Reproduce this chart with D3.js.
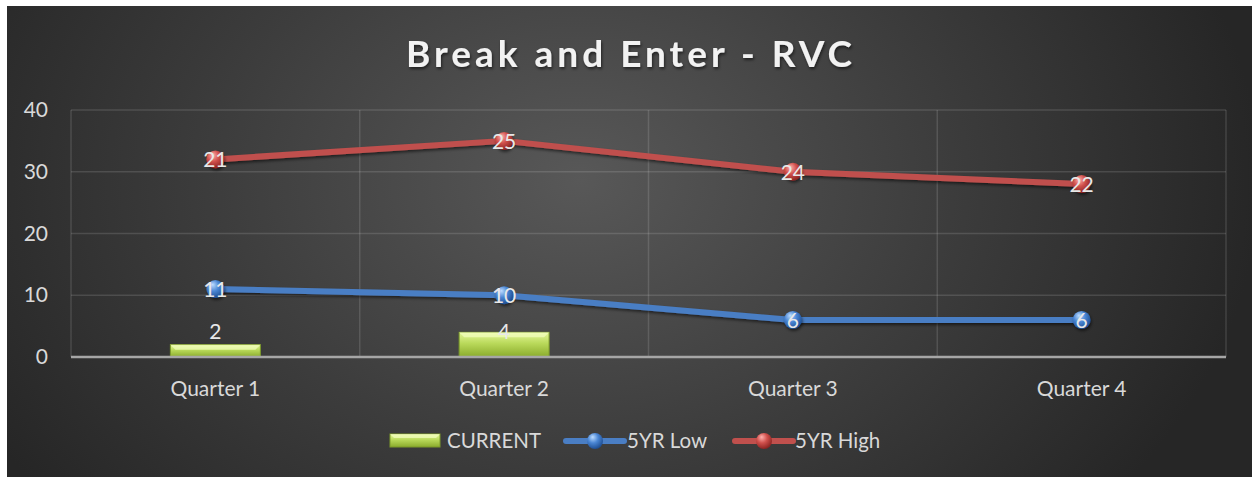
<!DOCTYPE html>
<html>
<head>
    <meta charset="utf-8">
    <title>Break and Enter - RVC</title>
    <script src="https://d3js.org/d3.v7.min.js"></script>
    <style>
        body { margin: 0; background: #fff; }
        text { font-family: Lato, "Open Sans", sans-serif; }
        .tick-label { font-size: 21px; fill: #d9d9d9; }
        .data-label { font-size: 21px; fill: #e8e8e8; }
        .legend-text { font-size: 20.5px; fill: #d9d9d9; }
    </style>
</head>
<body>
    <div id="chart"></div>

    <script>
        // 数据
        const quarters = ["Quarter 1", "Quarter 2", "Quarter 3", "Quarter 4"];
        const current = [2, 4, null, null];
        const low5yr = [11, 10, 6, 6];
        const high5yr = [21, 25, 24, 22];   // stacked on top of 5YR Low
        const yTicks = [0, 10, 20, 30, 40];

        const width = 1252;
        const height = 477;
        const margin = { left: 71, right: 1226, top: 110, bottom: 357 };

        const svg = d3.select("#chart")
            .append("svg")
            .attr("width", width)
            .attr("height", height);

        const defs = svg.append("defs");

        // 背景渐变
        const bg = defs.append("radialGradient")
            .attr("id", "bg")
            .attr("gradientUnits", "userSpaceOnUse")
            .attr("cx", 580).attr("cy", 180).attr("r", 680)
            .attr("gradientTransform", "translate(580,180) scale(1,0.75) translate(-580,-180)");
        bg.append("stop").attr("offset", "0%").attr("stop-color", "#585858");
        bg.append("stop").attr("offset", "55%").attr("stop-color", "#3c3c3c");
        bg.append("stop").attr("offset", "100%").attr("stop-color", "#262626");

        const barGrad = defs.append("linearGradient")
            .attr("id", "barGrad").attr("x1", 0).attr("y1", 0).attr("x2", 0).attr("y2", 1);
        barGrad.append("stop").attr("offset", "0%").attr("stop-color", "#e4f79a");
        barGrad.append("stop").attr("offset", "45%").attr("stop-color", "#b9d95a");
        barGrad.append("stop").attr("offset", "100%").attr("stop-color", "#8aab2c");

        function sphere(id, light, mid, dark) {
            const g = defs.append("radialGradient")
                .attr("id", id)
                .attr("cx", "40%").attr("cy", "35%").attr("r", "65%")
                .attr("fx", "35%").attr("fy", "25%");
            g.append("stop").attr("offset", "0%").attr("stop-color", light);
            g.append("stop").attr("offset", "50%").attr("stop-color", mid);
            g.append("stop").attr("offset", "100%").attr("stop-color", dark);
        }
        sphere("blueBall", "#bcdcff", "#4a86d4", "#1f4f94");
        sphere("redBall", "#ffb0ad", "#d0504c", "#8c2422");

        const shadow = defs.append("filter").attr("id", "shadow")
            .attr("x", "-20%").attr("y", "-20%").attr("width", "140%").attr("height", "160%");
        shadow.append("feDropShadow")
            .attr("dx", 1).attr("dy", 2).attr("stdDeviation", 1.5)
            .attr("flood-color", "#000").attr("flood-opacity", 0.55);

        svg.append("rect")
            .attr("x", 7).attr("y", 6)
            .attr("width", width - 7).attr("height", height - 6)
            .attr("fill", "url(#bg)");

        // 比例尺
        const x = d3.scaleBand()
            .domain(quarters)
            .range([margin.left, margin.right]);

        const y = d3.scaleLinear()
            .domain([0, 40])
            .range([margin.bottom, margin.top]);

        // 网格线
        svg.append("g")
            .selectAll("line")
            .data(yTicks.filter(d => d > 0))
            .join("line")
            .attr("x1", margin.left).attr("x2", margin.right)
            .attr("y1", d => y(d)).attr("y2", d => y(d))
            .attr("stroke", "#ffffff").attr("stroke-opacity", 0.13).attr("stroke-width", 1.5);

        const bounds = quarters.map(q => x(q)).concat([margin.right]);
        svg.append("g")
            .selectAll("line")
            .data(bounds)
            .join("line")
            .attr("x1", d => d).attr("x2", d => d)
            .attr("y1", margin.top).attr("y2", margin.bottom)
            .attr("stroke", "#ffffff").attr("stroke-opacity", 0.13).attr("stroke-width", 1.5);

        // Y轴标签
        svg.append("g")
            .selectAll("text")
            .data(yTicks)
            .join("text")
            .attr("class", "tick-label")
            .attr("x", 48)
            .attr("y", d => y(d) + 7)
            .attr("text-anchor", "end")
            .text(d => d);

        // X轴标签
        svg.append("g")
            .selectAll("text")
            .data(quarters)
            .join("text")
            .attr("class", "tick-label")
            .attr("x", d => x(d) + x.bandwidth() / 2)
            .attr("y", 396)
            .attr("text-anchor", "middle")
            .text(d => d);

        // 柱状图
        const barW = 90;
        const bars = quarters.map((q, i) => ({ q, v: current[i] })).filter(d => d.v != null);

        svg.append("g")
            .selectAll("rect")
            .data(bars)
            .join("rect")
            .attr("x", d => x(d.q) + x.bandwidth() / 2 - barW / 2)
            .attr("y", d => y(d.v))
            .attr("width", barW)
            .attr("height", d => y(0) - y(d.v))
            .attr("fill", "url(#barGrad)")
            .attr("stroke", "#7c9a2a")
            .attr("stroke-width", 1);

        // 斜面高光
        svg.append("g")
            .selectAll("path")
            .data(bars)
            .join("path")
            .attr("d", d => {
                const x0 = x(d.q) + x.bandwidth() / 2 - barW / 2, x1 = x0 + barW;
                const y0 = y(d.v), y1 = y(0), b = Math.min(5, (y1 - y0) / 2);
                return `M${x0},${y0}L${x1},${y0}L${x1 - b},${y0 + b}L${x0 + b},${y0 + b}Z`;
            })
            .attr("fill", "#f3ffc0").attr("opacity", 0.7);

        // X轴
        svg.append("line")
            .attr("x1", margin.left).attr("x2", margin.right)
            .attr("y1", y(0)).attr("y2", y(0))
            .attr("stroke", "#a6a6a6").attr("stroke-width", 2.5);

        // 折线
        const lowPts = quarters.map((q, i) => ({ q, v: low5yr[i], pos: low5yr[i] }));
        const highPts = quarters.map((q, i) => ({ q, v: high5yr[i], pos: low5yr[i] + high5yr[i] }));

        const line = d3.line()
            .x(d => x(d.q) + x.bandwidth() / 2)
            .y(d => y(d.pos));

        function drawSeries(pts, color, ball) {
            svg.append("path")
                .datum(pts)
                .attr("d", line)
                .attr("fill", "none")
                .attr("stroke", color)
                .attr("stroke-width", 6)
                .attr("stroke-linejoin", "round")
                .attr("filter", "url(#shadow)");

            svg.append("g")
                .selectAll("circle")
                .data(pts)
                .join("circle")
                .attr("cx", d => x(d.q) + x.bandwidth() / 2)
                .attr("cy", d => y(d.pos))
                .attr("r", 9)
                .attr("fill", `url(#${ball})`)
                .attr("filter", "url(#shadow)");

            svg.append("g")
                .selectAll("text")
                .data(pts)
                .join("text")
                .attr("class", "data-label")
                .attr("x", d => x(d.q) + x.bandwidth() / 2)
                .attr("y", d => y(d.pos) + 8)
                .attr("text-anchor", "middle")
                .text(d => d.v);
        }

        drawSeries(lowPts, "#4a7ec4", "blueBall");
        drawSeries(highPts, "#c0504d", "redBall");

        // 柱状图标签
        svg.append("g")
            .selectAll("text")
            .data(bars)
            .join("text")
            .attr("class", "data-label")
            .attr("x", d => x(d.q) + x.bandwidth() / 2)
            .attr("y", y(d3.max(current)) + 7)
            .attr("text-anchor", "middle")
            .text(d => d.v);

        // 标题
        svg.append("text")
            .attr("x", 631)
            .attr("y", 67)
            .attr("text-anchor", "middle")
            .attr("font-size", 37)
            .attr("font-weight", "bold")
            .attr("letter-spacing", 4)
            .attr("fill", "#f2f2f2")
            .attr("filter", "url(#shadow)")
            .text("Break and Enter - RVC");

        // 图例
        const legend = svg.append("g");
        legend.append("rect")
            .attr("x", 390).attr("y", 434).attr("width", 50).attr("height", 13)
            .attr("fill", "url(#barGrad)").attr("stroke", "#7c9a2a");
        legend.append("path")
            .attr("d", "M390,434L440,434L436,438L394,438Z")
            .attr("fill", "#f3ffc0").attr("opacity", 0.7);
        legend.append("text").attr("class", "legend-text")
            .attr("x", 447).attr("y", 448).text("CURRENT");

        const legendLines = [
            { x0: 566, x1: 624, color: "#4a7ec4", ball: "blueBall", tx: 627, label: "5YR Low" },
            { x0: 735, x1: 793, color: "#c0504d", ball: "redBall", tx: 795, label: "5YR High" }
        ];
        legendLines.forEach(d => {
            legend.append("line")
                .attr("x1", d.x0).attr("x2", d.x1)
                .attr("y1", 441).attr("y2", 441)
                .attr("stroke", d.color).attr("stroke-width", 6).attr("stroke-linecap", "round");
            legend.append("circle")
                .attr("cx", (d.x0 + d.x1) / 2).attr("cy", 441).attr("r", 8)
                .attr("fill", `url(#${d.ball})`);
            legend.append("text").attr("class", "legend-text")
                .attr("x", d.tx).attr("y", 448).text(d.label);
        });
    </script>
</body>
</html>
